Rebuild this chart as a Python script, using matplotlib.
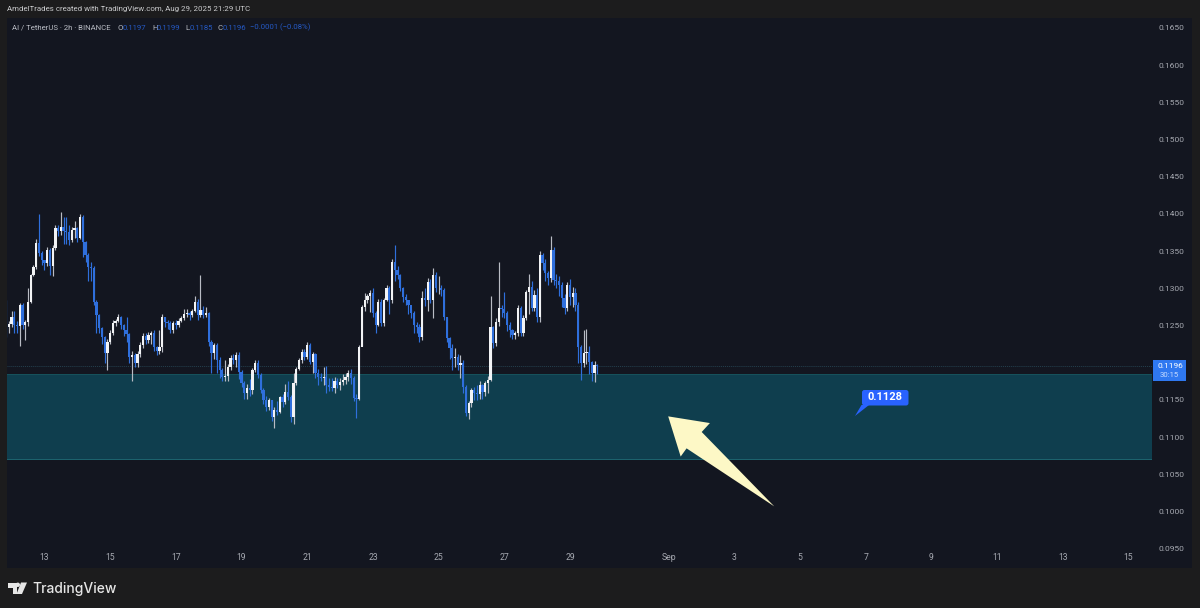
import matplotlib
matplotlib.use("Agg")
from matplotlib import pyplot as plt
from matplotlib.patches import Polygon, Rectangle, FancyBboxPatch, Circle

plt.rcParams['font.family'] = ['Roboto', 'DejaVu Sans']

first_open = 0.1282
closes = [
    .1248, .1252, .1262, .1251, .1250, .1278, .1251, .1255, .1282, .1318,
    .1329, .1361, .1348, .1338, .1334, .1352, .1330, .1354, .1381, .1377,
    .1382, .1377, .1376, .1365, .1378, .1381, .1368, .1396, .1362, .1345,
    .1329, .1327, .1282, .1264, .1247, .1235, .1213, .1228, .1240, .1253,
    .1256, .1262, .1251, .1244, .1239, .1208, .1210, .1200, .1212, .1224,
    .1236, .1231, .1237, .1240, .1221, .1216, .1221, .1262, .1255, .1253,
    .1244, .1253, .1251, .1256, .1260, .1266, .1267, .1264, .1270, .1282,
    .1264, .1271, .1264, .1267, .1228, .1213, .1224, .1204, .1190, .1181,
    .1182, .1194, .1206, .1204, .1210, .1188, .1173, .1159, .1166, .1163,
    .1190, .1200, .1184, .1163, .1150, .1141, .1150, .1127, .1137, .1134,
    .1154, .1147, .1161, .1154, .1127, .1173, .1192, .1204, .1215, .1208,
    .1224, .1201, .1212, .1186, .1181, .1180, .1181, .1170, .1167, .1166,
    .1176, .1170, .1174, .1177, .1181, .1186, .1180, .1153, .1152, .1221,
    .1275, .1284, .1290, .1294, .1267, .1251, .1282, .1253, .1284, .1301,
    .1284, .1335, .1325, .1318, .1300, .1288, .1284, .1278, .1267, .1251,
    .1248, .1235, .1287, .1284, .1309, .1284, .1318, .1300, .1301, .1298,
    .1262, .1233, .1220, .1206, .1208, .1197, .1200, .1167, .1133, .1146,
    .1163, .1159, .1158, .1170, .1161, .1173, .1177, .1248, .1227, .1255,
    .1274, .1272, .1267, .1251, .1244, .1237, .1240, .1274, .1240, .1260,
    .1295, .1302, .1274, .1291, .1262, .1345, .1334, .1321, .1314, .1352,
    .1311, .1310, .1305, .1287, .1274, .1305, .1288, .1294, .1278, .1221,
    .1200, .1213, .1215, .1201, .1186, .1197, .1196,
]
highs = [
    .1285, .1256, .1270, .1270, .1256, .1280, .1280, .1258, .1300, .1320,
    .1332, .1366, .1400, .1350, .1338, .1356, .1354, .1358, .1385, .1385,
    .1403, .1396, .1396, .1385, .1382, .1390, .1382, .1400, .1398, .1364,
    .1347, .1335, .1330, .1284, .1266, .1248, .1236, .1232, .1244, .1258,
    .1259, .1265, .1263, .1252, .1262, .1240, .1216, .1213, .1216, .1228,
    .1240, .1240, .1241, .1243, .1244, .1222, .1244, .1265, .1262, .1258,
    .1256, .1256, .1258, .1260, .1263, .1272, .1272, .1270, .1272, .1290,
    .1286, .1318, .1276, .1275, .1268, .1231, .1226, .1226, .1208, .1193,
    .1204, .1198, .1210, .1212, .1215, .1214, .1190, .1175, .1172, .1178,
    .1193, .1204, .1204, .1186, .1166, .1155, .1153, .1150, .1141, .1148,
    .1156, .1158, .1172, .1176, .1157, .1186, .1195, .1206, .1218, .1218,
    .1228, .1226, .1215, .1213, .1191, .1186, .1195, .1196, .1179, .1180,
    .1181, .1180, .1180, .1185, .1186, .1190, .1192, .1182, .1158, .1224,
    .1278, .1294, .1292, .1298, .1300, .1270, .1286, .1286, .1287, .1305,
    .1303, .1340, .1358, .1330, .1320, .1302, .1292, .1285, .1272, .1270,
    .1255, .1252, .1297, .1300, .1314, .1312, .1328, .1322, .1316, .1304,
    .1300, .1262, .1235, .1225, .1220, .1212, .1210, .1204, .1170, .1148,
    .1166, .1168, .1170, .1175, .1172, .1175, .1182, .1290, .1250, .1260,
    .1335, .1278, .1295, .1270, .1255, .1246, .1243, .1278, .1276, .1264,
    .1298, .1320, .1310, .1298, .1300, .1350, .1348, .1340, .1324, .1370,
    .1355, .1320, .1316, .1308, .1292, .1308, .1312, .1302, .1300, .1282,
    .1224, .1244, .1245, .1222, .1202, .1203, .1199,
]
lows = [
    .1235, .1240, .1248, .1240, .1240, .1222, .1245, .1230, .1250, .1280,
    .1316, .1326, .1344, .1332, .1325, .1330, .1318, .1316, .1352, .1370,
    .1372, .1360, .1360, .1358, .1362, .1368, .1362, .1366, .1342, .1335,
    .1310, .1310, .1278, .1240, .1240, .1225, .1200, .1190, .1225, .1238,
    .1250, .1255, .1246, .1236, .1228, .1200, .1175, .1195, .1195, .1208,
    .1220, .1225, .1226, .1225, .1216, .1210, .1212, .1215, .1248, .1245,
    .1240, .1240, .1245, .1248, .1255, .1258, .1262, .1258, .1262, .1268,
    .1258, .1262, .1260, .1262, .1222, .1186, .1205, .1186, .1180, .1176,
    .1176, .1176, .1190, .1198, .1195, .1178, .1168, .1152, .1152, .1155,
    .1158, .1188, .1180, .1160, .1145, .1135, .1137, .1122, .1113, .1130,
    .1132, .1140, .1145, .1150, .1120, .1118, .1170, .1190, .1200, .1204,
    .1205, .1198, .1186, .1180, .1170, .1176, .1170, .1160, .1162, .1162,
    .1160, .1166, .1163, .1170, .1172, .1176, .1172, .1148, .1126, .1150,
    .1222, .1270, .1280, .1268, .1262, .1240, .1250, .1250, .1250, .1283,
    .1266, .1280, .1310, .1312, .1296, .1282, .1278, .1265, .1260, .1240,
    .1240, .1228, .1230, .1276, .1270, .1280, .1260, .1295, .1292, .1290,
    .1258, .1228, .1205, .1190, .1195, .1190, .1180, .1160, .1128, .1124,
    .1140, .1150, .1150, .1152, .1152, .1155, .1160, .1175, .1220, .1222,
    .1250, .1262, .1260, .1243, .1235, .1232, .1232, .1236, .1236, .1236,
    .1258, .1265, .1270, .1270, .1255, .1255, .1325, .1310, .1305, .1308,
    .1305, .1300, .1290, .1275, .1265, .1270, .1278, .1275, .1270, .1200,
    .1177, .1195, .1198, .1185, .1175, .1174, .1185,
]

last_day = 29 + 20 / 24  # last 2h candle, Aug 29 20:00
day_ticks = [13, 15, 17, 19, 21, 23, 25, 27, 29, 32, 34, 36, 38, 40, 42, 44, 46]
day_labels = ['13', '15', '17', '19', '21', '23', '25', '27', '29', 'Sep',
              '3', '5', '7', '9', '11', '13', '15']
# 0.1200 is left out, the last price label covers it
price_ticks = [.0950, .1000, .1050, .1100, .1150, .1250, .1300, .1350,
               .1400, .1450, .1500, .1550, .1600, .1650]
zone_top = .1185
zone_bottom = .10707
last_price = .1196
target_price = .1128
arrow_days = [31.99, 33.26, 33.01, 35.22, 32.55, 32.37]
arrow_prices = [.1128, .1119, .1107, .1007, .1085, .1074]

FRAME = '#1c1c1d'
PANE = '#131620'
BLUE = '#2f6fdc'
WHITE = '#f2f3f5'
TICK = '#a6a9b1'
W, H = 1200, 608


def fx(x):
    return x / W


def fy(y):
    return 1 - y / H


fig = plt.figure(figsize=(12, 6.08), dpi=100, facecolor=FRAME)

# price scale panel sits behind the axes
fig.add_artist(Rectangle((fx(1152), fy(568)), 40 / W, 550 / H, transform=fig.transFigure,
                         facecolor=PANE, edgecolor='none', zorder=-5))

ax = fig.add_axes([fx(7), fy(568), 1145 / W, 550 / H], facecolor=PANE)
ax.set_xlim(11.86, 46.72)
ax.set_ylim(.115 - 168 / 7440, .115 + 382 / 7440)
for s in ax.spines.values():
    s.set_visible(False)

ax.axhspan(zone_bottom, zone_top, facecolor='#0f3e4e', edgecolor='none', zorder=1)
ax.axhline(zone_top, color='#17525c', lw=0.7, zorder=1.1)
ax.axhline(zone_bottom, color='#1d6570', lw=0.7, zorder=1.1)
ax.axhline(last_price, color='#24404e', lw=0.7, ls=(0, (1, 1)), zorder=1.2)

# candles
n = len(closes)
opens = [first_open] + closes[:-1]
days = [last_day - (n - 1 - i) / 12 for i in range(n)]
for d, o, c, h, l in zip(days, opens, closes, highs, lows):
    col = WHITE if c >= o else BLUE
    wick = '#b9bcc4' if c >= o else BLUE
    ax.vlines(d, l, h, color=wick, lw=0.85, zorder=2)
    ax.add_patch(Rectangle((d - 0.034, min(o, c)), 0.068, max(abs(c - o), .00008),
                           facecolor=col, edgecolor='none', zorder=3))

ax.add_patch(Polygon(list(zip(arrow_days, arrow_prices)), closed=True,
                     facecolor='#fdf8c6', edgecolor='none', zorder=4))

ax.set_xticks(day_ticks)
ax.set_xticklabels(day_labels)
ax.set_yticks(price_ticks)
ax.set_yticklabels([f'{p:.4f}' for p in price_ticks])
ax.yaxis.tick_right()
ax.tick_params(axis='x', length=0, labelsize=6.2, colors=TICK, pad=-11)
ax.tick_params(axis='y', length=0, labelsize=6.0, colors=TICK, pad=4.5)

# 0.1128 callout
fig.add_artist(Polygon([(fx(855), fy(416)), (fx(861.5), fy(405)), (fx(869), fy(405))],
                       closed=True, transform=fig.transFigure, facecolor='#2962ff',
                       edgecolor='none', zorder=6))
fig.add_artist(FancyBboxPatch((fx(862), fy(405.5)), 46.5 / W, 15.5 / H,
                              boxstyle='round,pad=0,rounding_size=0.002',
                              mutation_aspect=2, transform=fig.transFigure,
                              facecolor='#2962ff', edgecolor='none', zorder=6))
fig.text(fx(885), fy(397.5), f'{target_price:.4f}', color='white', fontsize=8,
         fontweight='bold', ha='center', va='center', zorder=7)

# last price label
fig.add_artist(Rectangle((fx(1153), fy(381)), 33 / W, 21 / H, transform=fig.transFigure,
                         facecolor='#2f78f0', edgecolor='none', zorder=6))
fig.text(fx(1170), fy(366), f'{last_price:.4f}', color='white', fontsize=6.0,
         ha='center', va='center', zorder=7)
fig.text(fx(1169), fy(375), '30:15', color='#c8dcff', fontsize=5.6,
         ha='center', va='center', zorder=7)

# header and legend
fig.text(fx(7), fy(9.5), 'AmdelTrades created with TradingView.com, Aug 29, 2025 21:29 UTC',
         color='#c9cacc', fontsize=5.66, ha='left', va='center')
fig.text(fx(12), fy(27.5), 'AI / TetherUS · 2h · BINANCE', color='#b9bcc4', fontsize=5.6,
         ha='left', va='center')
legend_x = [118, 152, 185, 218]
for x, k, v in zip(legend_x, 'OHLC', ['0.1197', '0.1199', '0.1185', '0.1196']):
    fig.text(fx(x), fy(27.5), k, color='#b9bcc4', fontsize=5.6, ha='left', va='center')
    fig.text(fx(x + 5), fy(27.5), v, color='#2559c4', fontsize=5.6, ha='left', va='center')
fig.text(fx(250), fy(27.5), '−0.0001 (−0.08%)', color='#2559c4', fontsize=5.6,
         ha='left', va='center')

# logo
logo = '#e6e6e6'
fig.add_artist(Polygon([(fx(7.5), fy(582.5)), (fx(17), fy(582.5)), (fx(17), fy(594)),
                        (fx(12.5), fy(594)), (fx(12.5), fy(587.5)), (fx(7.5), fy(587.5))],
                       closed=True, transform=fig.transFigure, facecolor=logo, edgecolor='none'))
fig.add_artist(Circle((17.8, H - 584.8), 2.2, transform=None, facecolor=logo, edgecolor='none'))
fig.add_artist(Polygon([(fx(21), fy(582.5)), (fx(27), fy(582.5)), (fx(22), fy(594)), (fx(16.5), fy(594))],
                       closed=True, transform=fig.transFigure, facecolor=logo, edgecolor='none'))
fig.text(fx(32), fy(588.5), 'TradingView', color=logo, fontsize=10, family='Inter',
         fontweight='medium', ha='left', va='center')

fig.savefig('out.png', dpi=100, facecolor=FRAME)
